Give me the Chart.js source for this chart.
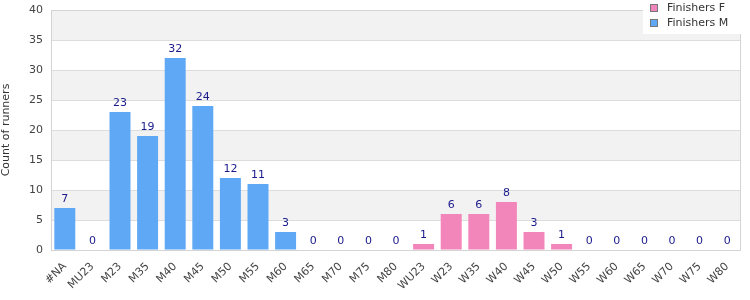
<!DOCTYPE html>
<html><head><meta charset="utf-8">
<script src="https://cdn.jsdelivr.net/npm/chart.js@4/dist/chart.umd.min.js"></script>
<style>html,body{margin:0;padding:0;background:#fff}#wrap{width:750px;height:300px;position:relative}</style>
</head><body><div id="wrap"><canvas id="c" width="750" height="300"></canvas></div>
<script>
const categories = ["#NA","MU23","M23","M35","M40","M45","M50","M55","M60","M65","M70","M75","M80","WU23","W23","W35","W40","W45","W50","W55","W60","W65","W70","W75","W80"];
const maleValues   = [7,0,23,19,32,24,12,11,3,0,0,0,0,null,null,null,null,null,null,null,null,null,null,null,null];
const femaleValues = [null,null,null,null,null,null,null,null,null,null,null,null,null,1,6,6,8,3,1,0,0,0,0,0,0];
const yTicks = [0,5,10,15,20,25,30,35,40];
const seriesNames = ["Finishers F","Finishers M"];
const FONT = "'DejaVu Sans', Verdana, sans-serif";
const colF = "#f285b9", colM = "#5fa8f5";

const bgPlugin = {
  id:'bg',
  beforeDraw(chart){
    const {ctx, chartArea:a, scales:{y}} = chart;
    ctx.save();
    for (let i=0;i<yTicks.length-1;i++){
      if (i%2===1){
        const t = y.getPixelForValue(yTicks[i+1]), b = y.getPixelForValue(yTicks[i]);
        ctx.fillStyle = '#f2f2f2';
        ctx.fillRect(a.left, t, a.right-a.left, b-t);
      }
    }
    ctx.restore();
  },
  afterDatasetsDraw(chart){
    const {ctx, chartArea:a} = chart;
    ctx.save();
    ctx.strokeStyle = '#d4d4d4'; ctx.lineWidth = 1;
    ctx.strokeRect(a.left+0.5, a.top+0.5, a.right-a.left-1, a.bottom-a.top);
    ctx.fillStyle = '#1a1a8c';
    ctx.font = '11px ' + FONT;
    ctx.textAlign = 'center'; ctx.textBaseline = 'bottom';
    chart.data.datasets.forEach((ds, di) => {
      const meta = chart.getDatasetMeta(di);
      meta.data.forEach((bar, i) => {
        const v = ds.data[i];
        if (v === null || v === undefined) return;
        ctx.fillText(String(v), bar.x, bar.y - 3);
      });
    });
    const lx = 643, ly = 0, lw = 98, lh = 34;
    ctx.fillStyle = '#ffffff';
    ctx.fillRect(lx, ly, lw, lh);
    const items = [[seriesNames[0], colF],[seriesNames[1], colM]];
    ctx.textAlign = 'left'; ctx.textBaseline = 'middle';
    items.forEach((it, k) => {
      const cy = 8 + k*15;
      ctx.fillStyle = it[1];
      ctx.fillRect(lx+7, cy-4, 8, 8);
      ctx.strokeStyle = '#777'; ctx.strokeRect(lx+7.5, cy-3.5, 7, 7);
      ctx.fillStyle = '#333';
      ctx.fillText(it[0], lx+24, cy);
    });
    ctx.restore();
  }
};

new Chart(document.getElementById('c'), {
  type: 'bar',
  data: {
    labels: categories,
    datasets: [
      { label: seriesNames[0], data: femaleValues, backgroundColor: colF, barPercentage: 0.76, categoryPercentage: 1.0, skipNull: true },
      { label: seriesNames[1], data: maleValues, backgroundColor: colM, barPercentage: 0.76, categoryPercentage: 1.0, skipNull: true }
    ]
  },
  options: {
    responsive: false, animation: false,
    layout: { padding: { top: 10, right: 9, left: 0, bottom: 0 } },
    plugins: { legend: { display: false }, tooltip: { enabled: false } },
    scales: {
      x: {
        stacked: true,
        grid: { display: false },
        border: { display: false },
        ticks: { color: '#444', font: { family: FONT, size: 11 }, maxRotation: 45, minRotation: 45, autoSkip: false, padding: 2 },
        afterFit(s){ s.height = 50; s.paddingLeft = 0; s.paddingRight = 0; }
      },
      y: {
        stacked: false,
        min: 0, max: 40,
        afterBuildTicks(s){ s.ticks = yTicks.map(v => ({value: v})); },
        grid: { color: '#dddddd', drawTicks: false },
        border: { display: false },
        ticks: { color: '#444', font: { family: FONT, size: 11 }, padding: 8 },
        title: { display: true, text: 'Count of runners', color: '#333', font: { family: FONT, size: 11 }, padding: { top: 0, bottom: 4 } },
        afterFit(s){ s.width = 51; s.paddingTop = 0; s.paddingBottom = 0; }
      }
    }
  },
  plugins: [bgPlugin]
});
</script></body></html>
